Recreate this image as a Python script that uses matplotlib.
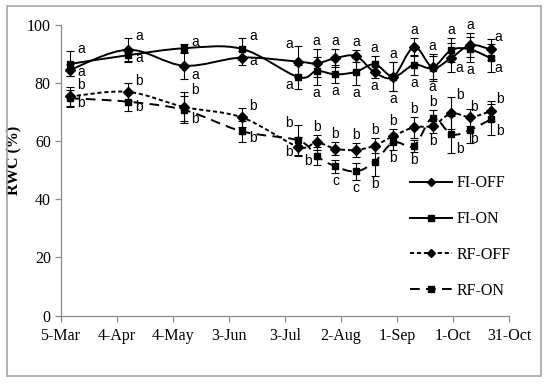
import matplotlib
matplotlib.use('Agg')
import matplotlib.pyplot as plt
import matplotlib.dates as mdates
from matplotlib.path import Path
from matplotlib.patches import PathPatch, Rectangle
from matplotlib.lines import Line2D
from datetime import date, timedelta
import numpy as np

plt.rcParams['lines.scale_dashes'] = False

# sampling dates
dates = [date(2015, 3, 10), date(2015, 4, 10), date(2015, 5, 10), date(2015, 6, 10),
         date(2015, 7, 10), date(2015, 7, 20), date(2015, 7, 30), date(2015, 8, 10),
         date(2015, 8, 20), date(2015, 8, 30), date(2015, 9, 10), date(2015, 9, 20),
         date(2015, 9, 30), date(2015, 10, 10), date(2015, 10, 21)]

fi_off = [84.5, 91.5, 86.0, 88.8, 87.4, 86.8, 88.6, 89.3, 83.7, 82.2, 92.4, 85.4, 88.7, 93.1, 91.6]
fi_off_err = [2.0, 4.0, 4.6, 2.4, 5.4, 4.8, 3.0, 2.2, 2.1, 5.0, 3.1, 4.5, 5.0, 4.0, 3.6]
fi_on = [86.6, 89.6, 92.0, 91.8, 82.1, 84.2, 83.0, 83.9, 86.5, 82.2, 86.3, 85.3, 91.4, 91.6, 88.6]
fi_on_err = [4.3, 2.3, 1.5, 3.7, 4.0, 4.9, 3.1, 4.6, 2.8, 5.0, 3.4, 4.0, 4.0, 4.2, 4.9]
rf_off = [75.4, 77.0, 71.8, 68.2, 58.1, 59.6, 57.4, 57.0, 58.5, 61.8, 64.8, 65.3, 69.6, 68.3, 70.3]
rf_off_err = [3.2, 3.0, 5.0, 3.3, 3.2, 2.5, 2.3, 2.3, 2.5, 2.5, 3.6, 2.5, 5.5, 2.9, 3.4]
rf_on = [74.8, 73.6, 70.8, 63.4, 60.3, 54.9, 51.3, 49.6, 52.9, 59.6, 58.4, 68.1, 62.4, 63.9, 67.5]
rf_on_err = [3.0, 3.2, 4.6, 3.5, 5.2, 3.0, 2.3, 2.9, 5.0, 2.5, 2.0, 2.6, 6.4, 4.6, 5.4]

# significance letters
fi_off_letters = ['a'] * 15
fi_on_letters = ['a'] * 15
rf_off_letters = ['b'] * 15
rf_on_letters = ['b', 'b', 'b', 'b', 'b', 'b', 'c', 'c', 'b', 'b', 'b', 'b', 'b', 'b', 'b']

series_names = ['FI-OFF', 'FI-ON', 'RF-OFF', 'RF-ON']

x_start = date(2015, 3, 5)
x_end = date(2015, 10, 31)
y_ticks = [0, 20, 40, 60, 80, 100]

# label horizontal offsets (pixels) for the upper / lower label of each pair
fi_dx_top = [11, 11, 11, 11, -9, 0, 0, 0, 0, 0, 0, 0, 0, 0, 8]
fi_dx_bot = [11, 11, 11, 11, -9, 0, 0, 0, 0, 0, 0, 0, 8, 0, 8]
rf_dx_top = [11, 11, 11, 11, -9, 0, 0, 0, 0, 0, 0, 0, 9, 4, 9]
rf_dx_bot = [11, 11, 11, 11, -9, -9, 0, 0, 0, 0, 0, 0, 9, 4, 9]

serif = ['Liberation Serif', 'DejaVu Serif']
sans = ['Liberation Sans', 'DejaVu Sans']
gray = '#8c8c8c'

fig = plt.figure(figsize=(5.5, 3.85), dpi=100)
ax = fig.add_axes([0.110, 0.1805, 0.816, 0.7545])

xn = mdates.date2num(dates)


def smooth_path(x, y):
    pts = np.column_stack([x, y])
    n = len(pts)
    verts = [pts[0]]
    codes = [Path.MOVETO]
    for i in range(n - 1):
        p0 = pts[i - 1] if i > 0 else pts[i]
        p1 = pts[i]
        p2 = pts[i + 1]
        p3 = pts[i + 2] if i + 2 < n else pts[i + 1]
        verts += [p1 + (p2 - p0) / 6, p2 - (p3 - p1) / 6, p2]
        codes += [Path.CURVE4] * 3
    return Path(verts, codes)


styles = [
    dict(ls='-', marker='D', ms=4.6),
    dict(ls='-', marker='s', ms=5),
    dict(ls=(0, (3, 2)), marker='D', ms=4.6),
    dict(ls=(0, (7, 4.5)), marker='s', ms=5),
]
vals = [fi_off, fi_on, rf_off, rf_on]
errs = [fi_off_err, fi_on_err, rf_off_err, rf_on_err]
letters = [fi_off_letters, fi_on_letters, rf_off_letters, rf_on_letters]

handles = []
for v, e, st, name in zip(vals, errs, styles, series_names):
    ax.add_patch(PathPatch(smooth_path(xn, v), facecolor='none', edgecolor='black',
                           lw=1.4, linestyle=st['ls'], zorder=3))
    ax.errorbar(dates, v, yerr=e, fmt='none', ecolor='black', elinewidth=0.8,
                capsize=2.6, capthick=0.8, zorder=2)
    ax.plot(dates, v, linestyle='none', marker=st['marker'], ms=st['ms'],
            color='black', zorder=4)
    handles.append(Line2D([], [], color='black', lw=1.4, linestyle=st['ls'],
                          marker=st['marker'], ms=st['ms'] - 0.5))


def put_label(d, y, txt, dx, top):
    if dx == 0:
        dy = 8 if top else -8
    else:
        dy = 2 if top else 4
    ax.annotate(txt, (d, y), xytext=(dx, dy), textcoords='offset pixels',
                ha='center', va='center', fontsize=10, family=sans, zorder=5)


pairs = [(0, 1, fi_dx_top, fi_dx_bot), (2, 3, rf_dx_top, rf_dx_bot)]
for a, b, dxt, dxb in pairs:
    for i, d in enumerate(dates):
        if vals[a][i] >= vals[b][i]:
            hi, lo = a, b
        else:
            hi, lo = b, a
        put_label(d, vals[hi][i] + errs[hi][i], letters[hi][i], dxt[i], True)
        put_label(d, vals[lo][i] - errs[lo][i], letters[lo][i], dxb[i], False)

# axes
ax.set_xlim(x_start, x_end)
ax.set_ylim(0, 100)
ticks = [x_start + timedelta(days=30 * k) for k in range(9)]
ax.set_xticks(ticks)
ax.set_xticklabels([f"{t.day}-{t.strftime('%b')}" for t in ticks], family=serif, fontsize=11.5)
ax.set_yticks(y_ticks)
ax.set_yticklabels([str(t) for t in y_ticks], family=serif, fontsize=11.5)
for s in ['top', 'right']:
    ax.spines[s].set_visible(False)
for s in ['left', 'bottom']:
    ax.spines[s].set_color(gray)
    ax.spines[s].set_linewidth(0.9)
ax.tick_params(color=gray, length=4, width=0.9, direction='out')
ax.tick_params(axis='x', pad=5)
ax.tick_params(axis='y', pad=3)
ax.set_ylabel('RWC (%)', family=serif, fontsize=11.5, fontweight='bold')
ax.yaxis.set_label_coords(-0.086, 0.535)

leg = ax.legend(handles, series_names, loc='upper left', bbox_to_anchor=(0.762, 0.51),
                frameon=False, prop={'family': serif, 'size': 11.5}, numpoints=1,
                handlelength=2.6, handletextpad=0.3, labelspacing=1.24, borderpad=0)

fig.patches.append(Rectangle((7 / 550, 1 - 376 / 385), 534 / 550, 370 / 385,
                             transform=fig.transFigure, fill=False,
                             edgecolor='#a6a6a6', lw=1.2))

fig.savefig('out.png', dpi=100)
